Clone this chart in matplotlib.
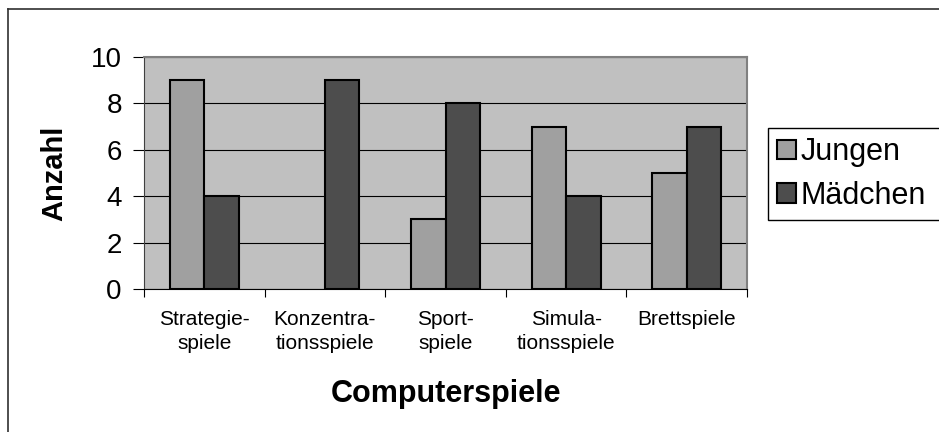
import numpy as np
import matplotlib.pyplot as plt
from matplotlib.lines import Line2D

plt.rcParams['font.family'] = ['Liberation Sans', 'DejaVu Sans']

categories = ["Strategie-\nspiele", "Konzentra-\ntionsspiele", "Sport-\nspiele",
              "Simula-\ntionsspiele", "Brettspiele"]
jungen = [9, 0, 3, 7, 5]
maedchen = [4, 9, 8, 4, 7]

W, H = 939, 432
fig = plt.figure(figsize=(W / 100, H / 100), dpi=100)
ax = fig.add_axes([144 / W, 1 - 289 / H, (747 - 144) / W, (289 - 57) / H])
ax.set_facecolor("#C0C0C0")

x = np.arange(len(categories))
bw = 1 / 3.5
b1 = ax.bar(x - bw / 2, jungen, bw, color="#A0A0A0", edgecolor="black", linewidth=1.5,
            label="Jungen", zorder=3)
b2 = ax.bar(x + bw / 2, maedchen, bw, color="#4D4D4D", edgecolor="black", linewidth=1.5,
            label="Mädchen", zorder=3)
# Excel draws nothing for an empty value
for bars, vals in [(b1, jungen), (b2, maedchen)]:
    for r, v in zip(bars, vals):
        if v == 0:
            r.set_visible(False)

ax.set_xlim(-0.5, len(categories) - 0.5)
ax.set_ylim(0, 10)
ax.set_yticks(range(0, 11, 2))
ax.yaxis.grid(True, color="black", linewidth=0.8, zorder=1)
ax.set_axisbelow(True)
ax.tick_params(axis="y", labelsize=20, length=8, direction="out", color="black", pad=8)

# category ticks between groups, labels centered
ax.set_xticks(np.arange(-0.5, len(categories), 1.0))
ax.set_xticklabels([])
ax.set_xticks(x, minor=True)
ax.set_xticklabels(categories, minor=True, fontsize=15, linespacing=1.35)
ax.tick_params(axis="x", which="major", length=6, direction="out", color="black")
ax.tick_params(axis="x", which="minor", length=0, pad=15)

for s in ["top", "right"]:
    ax.spines[s].set_color("#808080")
    ax.spines[s].set_linewidth(1.5)
ax.spines["left"].set_color("#404040")
ax.spines["bottom"].set_color("black")

ax.set_ylabel("Anzahl", fontsize=21, fontweight="bold", labelpad=16)
ax.set_xlabel("Computerspiele", fontsize=22, fontweight="bold", labelpad=19)

leg = fig.legend(loc="upper left", bbox_to_anchor=(768 / W, 1 - 128 / H, 200 / W, 0),
                 mode="expand", fontsize=22,
                 frameon=True, fancybox=False, edgecolor="black", framealpha=1,
                 handlelength=0.6, handleheight=0.6, handletextpad=0.15,
                 borderpad=0.3, labelspacing=0.45, borderaxespad=0)
leg.get_frame().set_linewidth(1.0)

# outer chart border
fig.add_artist(Line2D([8 / W, 1], [1 - 9 / H, 1 - 9 / H], color="#303030", linewidth=1.2))
fig.add_artist(Line2D([8 / W, 8 / W], [0, 1 - 9 / H], color="#303030", linewidth=1.2))

fig.savefig("out.png", dpi=100)
